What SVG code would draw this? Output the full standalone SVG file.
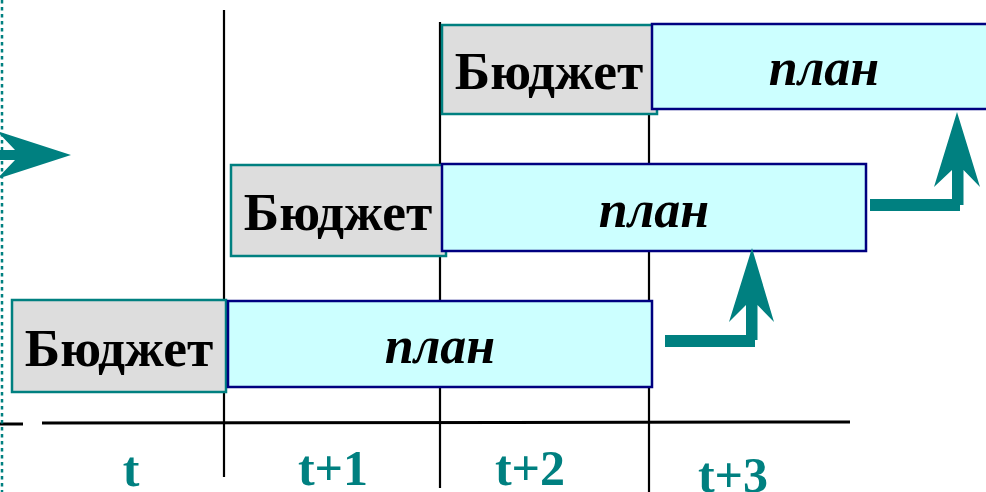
<svg xmlns="http://www.w3.org/2000/svg" width="986" height="492" viewBox="0 0 986 492">
<style>
.grid{stroke:#000;stroke-width:2.2;fill:none}
.bud{fill:#dddddd;stroke:#008080;stroke-width:2.5}
.plan{fill:#ccffff;stroke:#000080;stroke-width:2.5}
.bt{font-family:"Liberation Serif","Times New Roman",serif;font-weight:bold;font-size:53.5px;fill:#000;text-anchor:middle}
.pt{font-family:"Liberation Serif","Times New Roman",serif;font-weight:bold;font-style:italic;font-size:52px;fill:#000;text-anchor:middle}
.tl{font-family:"Liberation Serif","Times New Roman",serif;font-weight:bold;font-size:50px;fill:#008080;text-anchor:middle}
.arr{fill:#008080;stroke:none}
</style>
<rect width="986" height="492" fill="#fff"/>
<g id="axes">
<line class="grid" x1="224" y1="10" x2="224" y2="477"/>
<line class="grid" x1="440" y1="22" x2="440" y2="488"/>
<line class="grid" x1="649" y1="112" x2="649" y2="492"/>
<line x1="42" y1="423" x2="850" y2="422" stroke="#000" stroke-width="3"/>
<line x1="0" y1="424" x2="23" y2="424" stroke="#000" stroke-width="3"/>
</g>
<g id="row1">
<rect class="bud" x="12" y="300" width="214" height="92"/>
<text class="bt" x="119" y="366">Бюджет</text>
<rect class="plan" x="228" y="301" width="424" height="86"/>
<text class="pt" x="440" y="363">план</text>
</g>
<g id="row2">
<rect class="bud" x="231" y="165" width="215" height="91"/>
<text class="bt" x="338" y="230">Бюджет</text>
<rect class="plan" x="442" y="164" width="424" height="87"/>
<text class="pt" x="654" y="227">план</text>
</g>
<g id="row3">
<rect class="bud" x="442" y="25" width="215" height="89"/>
<text class="bt" x="549" y="89">Бюджет</text>
<rect class="plan" x="652" y="24" width="350" height="85"/>
<text class="pt" x="824" y="85">план</text>
</g>
<g id="connectors">
<polygon class="arr" points="-10,150 15,150 -3,131 71,155 -3,179 15,160 -10,160"/>
<rect class="arr" x="665" y="335" width="90" height="12"/>
<polygon class="arr" points="752,248 774,322 757.5,305 757.5,340 746,340 746,305 729,322"/>
<rect class="arr" x="870" y="199" width="90" height="12"/>
<polygon class="arr" points="957,112 980,187 963.5,170 963.5,205 952,205 952,170 934,187"/>
</g>
<line x1="2" y1="0" x2="2" y2="492" stroke="#008080" stroke-width="2.5" stroke-dasharray="3.5 3.5"/>
<g id="labels">
<text class="tl" x="131" y="486">t</text>
<text class="tl" x="333" y="485">t+1</text>
<text class="tl" x="530" y="485">t+2</text>
<text class="tl" x="733" y="492">t+3</text>
</g>
</svg>
